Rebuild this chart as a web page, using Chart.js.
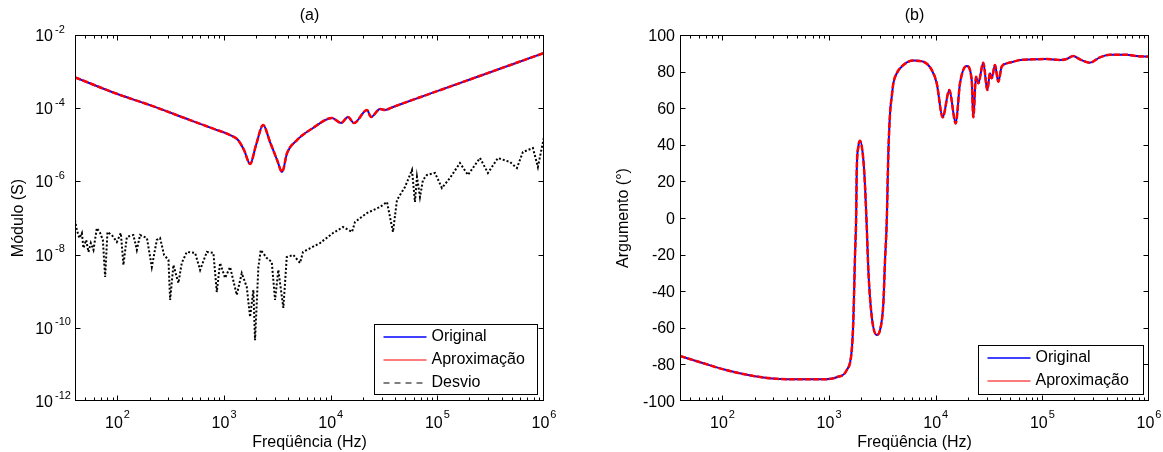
<!DOCTYPE html>
<html><head><meta charset="utf-8">
<script src="https://cdn.jsdelivr.net/npm/chart.js@4.4.1/dist/chart.umd.min.js"></script>
<style>
html,body{margin:0;padding:0;background:#fff;}
#wrap{position:relative;width:1163px;height:452px;overflow:hidden;background:#fff;}
canvas{position:absolute;top:0;}
#ca{left:0;width:600px;height:452px;}
#cb{left:600px;width:563px;height:452px;}
</style></head><body>
<div id="wrap"><canvas id="ca" width="600" height="452"></canvas><canvas id="cb" width="563" height="452"></canvas></div>
<script>
// ---------- DATA ----------
// (a) magnitude, Hz -> S
const freqMag = [40, 100, 202, 480, 824, 1138, 1352, 1538, 1754, 1995, 2323, 2698, 3141, 3499, 3899, 4831, 6823, 10280, 12500, 14520, 16520, 21880, 23880, 28970, 32280, 38370, 131200, 386400, 1000000];
const magOriginal = [6.98e-4, 2.44e-4, 1.21e-4, 4.73e-5, 2.64e-5, 1.85e-5, 1.35e-5, 7.2e-6, 2.99e-6, 9.9e-6, 3.48e-5, 1.19e-5, 3.85e-6, 1.81e-6, 5.97e-6, 1.35e-5, 2.88e-5, 5.40e-5, 3.94e-5, 5.75e-5, 3.94e-5, 8.93e-5, 5.75e-5, 9.51e-5, 8.93e-5, 1.08e-4, 3.89e-4, 1.20e-3, 3.22e-3];
const magAprox = [6.98e-4, 2.44e-4, 1.21e-4, 4.73e-5, 2.64e-5, 1.85e-5, 1.35e-5, 7.2e-6, 2.99e-6, 9.9e-6, 3.48e-5, 1.19e-5, 3.85e-6, 1.81e-6, 5.97e-6, 1.35e-5, 2.88e-5, 5.40e-5, 3.94e-5, 5.75e-5, 3.94e-5, 8.93e-5, 5.75e-5, 9.51e-5, 8.93e-5, 1.08e-4, 3.89e-4, 1.20e-3, 3.22e-3];
const freqDesvio = [40, 41.6, 44.0, 46.4, 48.0, 50.9, 53.5, 56.3, 59.6, 64.1, 68.8, 73.0, 76.7, 80.6, 88.6, 98.7, 107.6, 113.8, 122.5, 141, 152, 163, 189, 210, 234, 251, 274, 301, 312, 335, 373, 401, 447, 535, 596, 689, 794, 854, 917, 1022, 1138, 1315, 1465, 1632, 1753, 1882, 1952, 2097, 2208, 2513, 2800, 3006, 3228, 3596, 3870, 4462, 5155, 5500, 7937, 10510, 13040, 15840, 16890, 21890, 28970, 33700, 38360, 41810, 49700, 57810, 61680, 64400, 68690, 73280, 79900, 94950, 110400, 131300, 162900, 193600, 250800, 298100, 369800, 479000, 557200, 634200, 787000, 876600, 1000000];
const desvio = [8.8e-8, 4.7e-8, 2.84e-8, 3.89e-8, 1.51e-8, 2.51e-8, 1.18e-8, 2.07e-8, 1.34e-8, 5.33e-8, 3.89e-8, 2.51e-8, 2.44e-9, 4.15e-8, 3.43e-8, 2.21e-8, 3.89e-8, 5.2e-9, 3.03e-8, 3.43e-8, 1.34e-8, 3.43e-8, 2.84e-8, 4.58e-9, 2.51e-8, 2.84e-8, 9.75e-9, 7.13e-9, 5.75e-10, 5.2e-9, 1.67e-9, 5.9e-9, 1.18e-8, 1.11e-8, 3.8e-9, 1.18e-8, 1.11e-8, 9.5e-10, 5.9e-9, 2.3e-9, 4.58e-9, 7.9e-10, 3.1e-9, 1.3e-9, 1.97e-10, 1.08e-9, 4.6e-11, 4.58e-9, 1.34e-8, 8.07e-9, 6.28e-9, 5.75e-10, 3.8e-9, 3.48e-10, 8.6e-9, 9.75e-9, 5.9e-9, 1.18e-8, 2.07e-8, 3.89e-8, 5.68e-8, 4.15e-8, 7.78e-8, 1.37e-7, 2.0e-7, 2.74e-7, 4.15e-8, 3.1e-7, 7.03e-7, 2.05e-6, 2.74e-7, 1.32e-6, 3.75e-7, 1.09e-6, 1.5e-6, 1.7e-6, 6.6e-7, 1.24e-6, 3.18e-6, 1.5e-6, 4.36e-6, 1.7e-6, 4.36e-6, 3.39e-6, 2.32e-6, 6.35e-6, 8.18e-6, 2.47e-6, 1.63e-5];
// (b) argument, Hz -> degrees
const freqArg = [40, 66.4, 102, 195, 401, 884, 1181, 1465, 1632, 1689, 1753, 1791, 1818, 1882, 1952, 2097, 2175, 2256, 2335, 2513, 2800, 3006, 3228, 3348, 3474, 3596, 3730, 3870, 4006, 4311, 4970, 6168, 7652, 9173, 10220, 11630, 13410, 15400, 16890, 19520, 21750, 22510, 23860, 25070, 27930, 30460, 32280, 33480, 35950, 38610, 41550, 46290, 53380, 61680, 82170, 109700, 146200, 168900, 194800, 225100, 279300, 346700, 430000, 616600, 765300, 1000000];
const argOriginal = [-75.4, -79.4, -82.7, -86.3, -88.1, -88.1, -87.0, -83.1, -72.1, -55.7, -19.3, -2, 26.2, 39, 42.2, 31.7, 17.1, -4.8, -28.4, -53.9, -63.9, -61.2, -46.6, -23, -2, 35.4, 57.2, 66.3, 73.6, 79.1, 83.6, 86, 85.4, 80.9, 73.6, 55.0, 69.9, 51.7, 73.6, 83.1, 75.4, 55.0, 77.2, 73.6, 84.9, 69.9, 79.1, 76.3, 83.6, 74.5, 82.7, 84.5, 85.4, 86.3, 86.7, 86.9, 86.3, 86.9, 88.5, 86.7, 84.9, 87.8, 89.2, 89.2, 88.5, 88.1];
const argAprox = [-75.4, -79.4, -82.7, -86.3, -88.1, -88.1, -87.0, -83.1, -72.1, -55.7, -19.3, -2, 26.2, 39, 42.2, 31.7, 17.1, -4.8, -28.4, -53.9, -63.9, -61.2, -46.6, -23, -2, 35.4, 57.2, 66.3, 73.6, 79.1, 83.6, 86, 85.4, 80.9, 73.6, 55.0, 69.9, 51.7, 73.6, 83.1, 75.4, 55.0, 77.2, 73.6, 84.9, 69.9, 79.1, 76.3, 83.6, 74.5, 82.7, 84.5, 85.4, 86.3, 86.7, 86.9, 86.3, 86.9, 88.5, 86.7, 84.9, 87.8, 89.2, 89.2, 88.5, 88.1];
// tick values
const yTicksMag = [1e-12, 1e-10, 1e-8, 1e-6, 1e-4, 1e-2];
const yTicksArg = [-100, -80, -60, -40, -20, 0, 20, 40, 60, 80, 100];
const xMin = 40, xMax = 1e6;

// ---------- helpers ----------
const FONT = '"Liberation Sans", Arial, Helvetica, sans-serif';
Chart.defaults.font.family = FONT;
Chart.defaults.color = '#000';
function pts(xs, ys) { return xs.map((x, i) => ({ x: x, y: ys[i] })); }
function logTickList(min, max) {
  const out = [];
  for (let e = Math.floor(Math.log10(min)); e <= Math.ceil(Math.log10(max)); e++) {
    for (let m = 1; m <= 9; m++) {
      const v = m * Math.pow(10, e);
      if (v >= min * 0.999 && v <= max * 1.001) out.push({ v: v, major: m === 1, e: e });
    }
  }
  return out;
}
const xTickList = logTickList(xMin, xMax);

const matlabAxes = {
  id: 'matlabAxes',
  afterDraw(chart, args, o) {
    const ctx = chart.ctx, a = chart.chartArea, xs = chart.scales.x, ys = chart.scales.y;
    ctx.save();
    ctx.strokeStyle = '#000'; ctx.lineWidth = 1; ctx.setLineDash([]);
    const L = Math.round(a.left) + 0.5, R = Math.round(a.right) - 0.5, T = Math.round(a.top) + 0.5, B = Math.round(a.bottom) - 0.5;
    const clampX = p => Math.min(Math.max(p, L), R), clampY = p => Math.min(Math.max(p, T), B);
    ctx.beginPath();
    for (const t of xTickList) {
      const px = clampX(Math.round(xs.getPixelForValue(t.v)) + 0.5);
      const len = t.major ? 5 : 3;
      ctx.moveTo(px, B); ctx.lineTo(px, B - len);
      ctx.moveTo(px, T); ctx.lineTo(px, T + len);
    }
    for (const v of o.yTicks) {
      const py = clampY(Math.round(ys.getPixelForValue(v)) + 0.5);
      ctx.moveTo(L, py); ctx.lineTo(L + 5, py);
      ctx.moveTo(R, py); ctx.lineTo(R - 5, py);
    }
    ctx.stroke();
    ctx.strokeRect(L, T, R - L, B - T);
    // tick labels
    ctx.fillStyle = '#000'; ctx.textBaseline = 'alphabetic'; ctx.textAlign = 'left';
    for (const t of xTickList) {
      if (!t.major) continue;
      const px = xs.getPixelForValue(t.v);
      ctx.font = '16px ' + FONT; const w1 = ctx.measureText('10').width;
      const es = String(t.e);
      ctx.font = '11px ' + FONT; const w2 = ctx.measureText(es).width;
      const x0 = px - (w1 + 1 + w2) / 2;
      ctx.font = '16px ' + FONT; ctx.fillText('10', x0, a.bottom + 27);
      ctx.font = '11px ' + FONT; ctx.fillText(es, x0 + w1 + 1, a.bottom + 17);
    }
    for (const v of o.yTicks) {
      const py = ys.getPixelForValue(v);
      if (o.yLog) {
        const e = Math.round(Math.log10(v));
        ctx.font = '16px ' + FONT; ctx.textAlign = 'right';
        ctx.fillText('10', a.left - 22, py + 6);
        ctx.font = '11px ' + FONT; ctx.textAlign = 'left';
        ctx.fillText(String(e), a.left - 20, py - 2.5);
      } else {
        ctx.font = '16px ' + FONT; ctx.textAlign = 'right';
        ctx.fillText(String(v), a.left - 5, py + 5.5);
      }
    }
    // legend box
    const lg = o.legend;
    const bx = Math.round(a.right - lg.right - lg.w) + 0.5, by = Math.round(a.bottom - lg.bottom - lg.h) + 0.5;
    ctx.fillStyle = '#fff'; ctx.fillRect(bx, by, lg.w, lg.h);
    ctx.strokeStyle = '#000'; ctx.lineWidth = 1; ctx.strokeRect(bx, by, lg.w, lg.h);
    ctx.font = '16px ' + FONT; ctx.textBaseline = 'middle'; ctx.textAlign = 'left';
    lg.items.forEach((it, i) => {
      const ry = by + 12.5 + i * 23;
      ctx.beginPath(); ctx.setLineDash(it.dash); ctx.strokeStyle = it.color; ctx.lineWidth = it.width;
      ctx.moveTo(bx + 9, ry); ctx.lineTo(bx + 52, ry); ctx.stroke();
      ctx.setLineDash([]); ctx.fillStyle = '#000';
      ctx.fillText(it.text, bx + 57, ry);
    });
    ctx.restore();
  }
};

function baseOptions(cfg) {
  return {
    responsive: false, animation: false, devicePixelRatio: 1, events: [],
    layout: { padding: { left: 0, right: cfg.padRight, top: 0, bottom: 0 } },
    plugins: {
      legend: { display: false }, tooltip: { enabled: false },
      title: { display: true, text: cfg.title, color: '#000', font: { size: 16, weight: 'normal' }, padding: { top: 6, bottom: 9.8 }, fullSize: false },
      matlabAxes: { yTicks: cfg.yTicks, yLog: cfg.yLog, legend: cfg.legend }
    },
    scales: {
      x: {
        type: 'logarithmic', min: xMin, max: xMax,
        ticks: { display: false }, grid: { display: false }, border: { display: false },
        title: { display: true, text: 'Freqüência (Hz)', color: '#000', font: { size: 16 }, padding: { top: 0, bottom: 0 } },
        afterFit(s) { s.height = 51; }
      },
      y: Object.assign({
        ticks: { display: false }, grid: { display: false }, border: { display: false },
        title: { display: true, text: cfg.yTitle, color: '#000', font: { size: 16 }, padding: { top: cfg.yTitlePad, bottom: 0 } },
        afterFit(s) { s.width = cfg.yWidth; }
      }, cfg.yScale)
    }
  };
}

new Chart(document.getElementById('ca'), {
  type: 'line',
  data: {
    datasets: [
      { label: 'Original', data: pts(freqMag, magOriginal), borderColor: '#0000ff', borderWidth: 2, pointRadius: 0, cubicInterpolationMode: 'monotone', order: 2 },
      { label: 'Aproximação', data: pts(freqMag, magAprox), borderColor: '#ff0000', borderWidth: 2.5, borderDash: [6, 2], pointRadius: 0, cubicInterpolationMode: 'monotone', order: 1 },
      { label: 'Desvio', data: pts(freqDesvio, desvio), borderColor: '#000000', borderWidth: 2, borderDash: [2, 2], pointRadius: 0, tension: 0, order: 0 }
    ]
  },
  options: baseOptions({
    padRight: 56, title: '(a)', yTicks: yTicksMag, yLog: true, yTitle: 'Módulo (S)', yTitlePad: 9, yWidth: 75,
    yScale: { type: 'logarithmic', min: 1e-12, max: 1e-2 },
    legend: { w: 163, h: 70, right: 7, bottom: 7, items: [
      { text: 'Original', color: '#0000ff', width: 1.5, dash: [] },
      { text: 'Aproximação', color: '#ff5050', width: 1.5, dash: [] },
      { text: 'Desvio', color: '#808080', width: 2, dash: [6, 5] }
    ] }
  }),
  plugins: [matlabAxes]
});

new Chart(document.getElementById('cb'), {
  type: 'line',
  data: {
    datasets: [
      { label: 'Original', data: pts(freqArg, argOriginal), borderColor: '#0000ff', borderWidth: 2, pointRadius: 0, cubicInterpolationMode: 'monotone', order: 2 },
      { label: 'Aproximação', data: pts(freqArg, argAprox), borderColor: '#ff0000', borderWidth: 2.5, borderDash: [6, 2], pointRadius: 0, cubicInterpolationMode: 'monotone', order: 1 }
    ]
  },
  options: baseOptions({
    padRight: 14, title: '(b)', yTicks: yTicksArg, yLog: false, yTitle: 'Argumento (°)', yTitlePad: 14.4, yWidth: 80,
    yScale: { type: 'linear', min: -100, max: 100 },
    legend: { w: 165, h: 49, right: 6, bottom: 7, items: [
      { text: 'Original', color: '#0000ff', width: 1.5, dash: [] },
      { text: 'Aproximação', color: '#ff5050', width: 1.5, dash: [] }
    ] }
  }),
  plugins: [matlabAxes]
});
</script></body></html>
